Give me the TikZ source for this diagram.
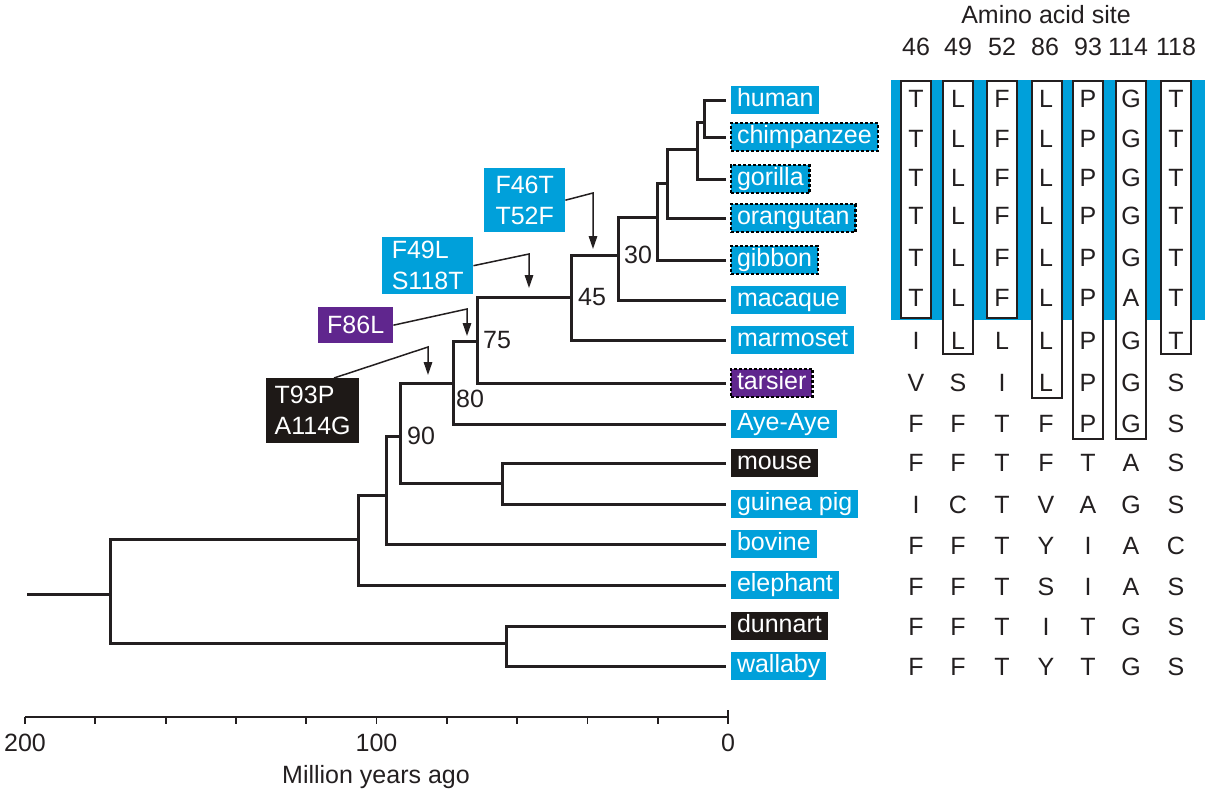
\documentclass[tikz,border=0pt]{standalone}
\usepackage{fontspec}
\setmainfont{Liberation Sans}
\usetikzlibrary{arrows.meta}
\definecolor{cblue}{RGB}{0,160,218}
\definecolor{cpurple}{RGB}{96,38,142}
\definecolor{cdark}{RGB}{30,25,23}
\definecolor{ink}{RGB}{35,31,32}
\begin{document}
\begin{tikzpicture}[x=1pt,y=-1pt,
  every node/.style={font=\fontsize{25}{31}\selectfont, text=ink},
  leaf/.style={anchor=west, outer xsep=5pt, outer ysep=0pt, inner xsep=6pt, inner ysep=2.5pt, text height=18pt, text depth=5pt, text=white},
  leafb/.style={leaf, fill=cblue},
  leafd/.style={leaf, fill=cblue, draw=black, dash pattern=on 3pt off 2pt, line width=2.5pt},
  leafk/.style={leaf, fill=cdark},
  leafp/.style={leaf, fill=cpurple, draw=black, dash pattern=on 3pt off 2pt, line width=2.5pt},
  branch/.style={draw=ink, line width=3pt, line join=miter},
  mutbox/.style={align=left, text=white, inner sep=0pt, anchor=north west},
  conn/.style={draw=ink, line width=1.5pt, -{Triangle[length=13pt,width=8.5pt]}},
  wbox/.style={draw=ink, fill=white, line width=2.2pt},
  axisline/.style={draw=ink, line width=1.8pt}]
\useasboundingbox (0,0) rectangle (1210,800);

% ---------- leaves ----------
\node[leafb] (human)  at (726,100) {human};
\node[leafd] (chimp)  at (726,137) {chimpanzee};
\node[leafd] (gorilla) at (726,179) {gorilla};
\node[leafd] (orang)  at (726,218) {orangutan};
\node[leafd] (gibbon) at (726,260) {gibbon};
\node[leafb] (macaque) at (726,300) {macaque};
\node[leafb] (marmoset) at (726,340) {marmoset};
\node[leafp] (tarsier) at (726,383) {tarsier};
\node[leafb] (aye)    at (726,424) {Aye-Aye};
\node[leafk] (mouse)  at (726,463) {mouse};
\node[leafb] (guinea) at (726,504) {guinea pig};
\node[leafb] (bovine) at (726,544) {bovine};
\node[leafb] (elephant) at (726,585) {elephant};
\node[leafk] (dunnart) at (726,626) {dunnart};
\node[leafb] (wallaby) at (726,666) {wallaby};

% ---------- internal nodes ----------
\coordinate (stem)   at (27,594);
\coordinate (nRoot)  at (110,594);
\coordinate (nEuth)  at (358,539);
\coordinate (nMars)  at (506,643);
\coordinate (nBoreo) at (386,495);
\coordinate (n90)    at (400,436);
\coordinate (nRod)   at (502,483);
\coordinate (n80)    at (453,383);
\coordinate (n75)    at (477,341);
\coordinate (n45)    at (571,297);
\coordinate (n30)    at (618,255);
\coordinate (nGib)   at (657,217);
\coordinate (nOra)   at (667,183);
\coordinate (nGor)   at (697,149);
\coordinate (nHC)    at (704,122);

\draw[branch] (stem) -- (nRoot);
\draw[branch] (nRoot) |- (nEuth);
\draw[branch] (nRoot) |- (nMars);
\draw[branch] (nEuth) |- (nBoreo);
\draw[branch] (nEuth) |- (elephant.west);
\draw[branch] (nMars) |- (dunnart.west);
\draw[branch] (nMars) |- (wallaby.west);
\draw[branch] (nBoreo) |- (n90);
\draw[branch] (nBoreo) |- (bovine.west);
\draw[branch] (n90) |- (n80);
\draw[branch] (n90) |- (nRod);
\draw[branch] (nRod) |- (mouse.west);
\draw[branch] (nRod) |- (guinea.west);
\draw[branch] (n80) |- (n75);
\draw[branch] (n80) |- (aye.west);
\draw[branch] (n75) |- (n45);
\draw[branch] (n75) |- (tarsier.west);
\draw[branch] (n45) |- (n30);
\draw[branch] (n45) |- (marmoset.west);
\draw[branch] (n30) |- (nGib);
\draw[branch] (n30) |- (macaque.west);
\draw[branch] (nGib) |- (nOra);
\draw[branch] (nGib) |- (gibbon.west);
\draw[branch] (nOra) |- (nGor);
\draw[branch] (nOra) |- (orang.west);
\draw[branch] (nGor) |- (nHC);
\draw[branch] (nGor) |- (gorilla.west);
\draw[branch] (nHC) |- (human.west);
\draw[branch] (nHC) |- (chimp.west);

% ---------- node ages ----------
\node (age30) at (638,255) {30};
\node (age45) at (592,297) {45};
\node (age75) at (497,340) {75};
\node (age80) at (470,399) {80};
\node (age90) at (421,436) {90};

% ---------- mutation boxes ----------
\node[mutbox, fill=cblue, minimum width=81pt, minimum height=64pt] (m1) at (484,168) {F46T\\T52F};
\node[mutbox, fill=cblue, minimum width=91pt, minimum height=57pt] (m2) at (382,237) {F49L\\S118T};
\node[mutbox, fill=cpurple, minimum width=75pt, minimum height=36pt] (m3) at (318,307) {F86L};
\node[mutbox, fill=cdark, minimum width=93pt, minimum height=65pt] (m4) at (266,378) {T93P\\A114G};

\coordinate (c1) at (593,193); \coordinate (t1) at (593,249);
\coordinate (c2) at (529,254); \coordinate (t2) at (529,288);
\coordinate (c3) at (467,309); \coordinate (t3) at (467,336);
\coordinate (c4) at (428,347); \coordinate (t4) at (428,375);
\coordinate (s4) at (334,378);

\draw[conn] (m1.east) -- (c1) -- (t1);
\draw[conn] (m2.east) -- (c2) -- (t2);
\draw[conn] (m3.east) -- (c3) -- (t3);
\draw[conn] (s4) -- (c4) -- (t4);

% ---------- amino acid table ----------
\node (title) at (1046,15) {Amino acid site};
\foreach \xx/\t in {916/46,958/49,1002/52,1045/86,1088/93,1128/114,1176/118}
  \node (h\t) at (\xx,47) {\t};

\fill[cblue] (891,80) rectangle (1205,320);
\foreach \xx/\bot in {916/318,958/354,1002/318,1047/398,1088/439,1131/439,1176/354}
  \draw[wbox] (\xx-15,81) rectangle (\xx+15,\bot);

\foreach \yy/\row [count=\ri] in {
   99/{T,L,F,L,P,G,T},
  139/{T,L,F,L,P,G,T},
  178/{T,L,F,L,P,G,T},
  216/{T,L,F,L,P,G,T},
  258/{T,L,F,L,P,G,T},
  298/{T,L,F,L,P,A,T},
  341/{I,L,L,L,P,G,T},
  383/{V,S,I,L,P,G,S},
  424/{F,F,T,F,P,G,S},
  463/{F,F,T,F,T,A,S},
  505/{I,C,T,V,A,G,S},
  546/{F,F,T,Y,I,A,C},
  587/{F,F,T,S,I,A,S},
  627/{F,F,T,I,T,G,S},
  667/{F,F,T,Y,T,G,S}}
{
  \foreach \c [count=\ci] in \row {
    \pgfmathsetmacro{\xx}{{916,958,1002,1046,1088,1131,1176}[\ci-1]}
    \node (aa\ri-\ci) at (\xx,\yy) {\c};
  }
}

% ---------- time axis ----------
\coordinate (a200) at (25,717);
\coordinate (a0) at (728,717);
\draw[axisline] (a200) -- (a0);
\foreach \k in {0,...,9}
  \draw[axisline] (25+70.3*\k,717) -- ++(0,7);
\draw[axisline] (728,710) -- (728,724);
\node (l200) at (25,743) {200};
\node (l100) at (376.5,743) {100};
\node (l0) at (728,743) {0};
\node (xlabel) at (376,777) {Million years ago};
\end{tikzpicture}
\end{document}
